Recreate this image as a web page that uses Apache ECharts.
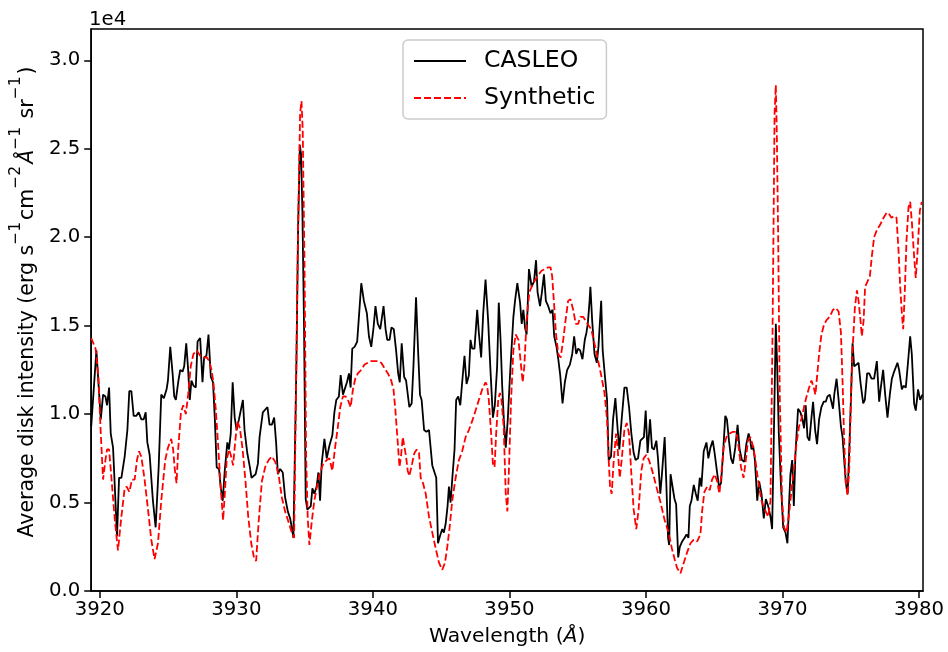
<!DOCTYPE html>
<html>
<head>
<meta charset="utf-8">
<script src="https://cdn.jsdelivr.net/npm/echarts@6/dist/echarts.min.js"></script>
<style>
html,body{margin:0;padding:0;background:#fff;}
#chart{width:948px;height:652px;}
</style>
</head>
<body>
<div id="chart"></div>
<script>
// Wavelengths (Å) and intensities in units of 1e4 erg s^-1 cm^-2 Å^-1 sr^-1
const casleoWave = [3919.37,3919.75,3920.07,3920.24,3920.41,3920.53,3920.68,3920.80,3920.97,3921.26,3921.41,3921.58,3921.82,3922.02,3922.16,3922.31,3922.48,3922.67,3922.85,3923.04,3923.21,3923.36,3923.48,3923.65,3923.89,3924.09,3924.31,3924.50,3924.69,3924.89,3924.99,3925.16,3925.33,3925.45,3925.57,3925.74,3925.89,3926.06,3926.18,3926.33,3926.47,3926.59,3926.71,3926.86,3927.03,3927.16,3927.35,3927.52,3927.64,3927.81,3927.96,3928.13,3928.29,3928.42,3928.56,3928.73,3928.85,3929.00,3929.15,3929.34,3929.46,3929.59,3929.73,3929.88,3930.02,3930.19,3930.31,3930.48,3930.60,3930.80,3930.99,3931.11,3931.24,3931.41,3931.58,3931.70,3931.94,3932.28,3932.43,3932.60,3932.77,3932.92,3933.04,3933.21,3933.40,3933.57,3933.77,3933.94,3934.06,3934.18,3934.26,3934.40,3934.52,3934.65,3934.74,3934.84,3934.96,3935.08,3935.20,3935.34,3935.45,3935.57,3935.71,3935.88,3936.01,3936.13,3936.25,3936.45,3936.62,3936.81,3937.03,3937.18,3937.32,3937.51,3937.64,3937.81,3937.93,3938.10,3938.25,3938.37,3938.49,3938.66,3938.85,3939.15,3939.34,3939.56,3939.71,3939.88,3940.05,3940.19,3940.36,3940.54,3940.63,3940.78,3940.93,3941.05,3941.22,3941.36,3941.53,3941.70,3941.85,3941.97,3942.11,3942.29,3942.43,3942.55,3942.67,3942.84,3942.97,3943.16,3943.31,3943.45,3943.57,3943.67,3943.75,3943.92,3944.11,3944.23,3944.35,3944.47,3944.64,3944.77,3944.91,3945.08,3945.20,3945.33,3945.47,3945.57,3945.69,3945.81,3945.98,3946.10,3946.25,3946.40,3946.54,3946.71,3946.86,3947.03,3947.15,3947.27,3947.44,3947.64,3947.76,3947.93,3948.08,3948.25,3948.44,3948.61,3948.79,3948.93,3949.10,3949.22,3949.35,3949.47,3949.59,3949.73,3949.88,3950.05,3950.29,3950.41,3950.58,3950.78,3950.90,3951.02,3951.14,3951.26,3951.43,3951.63,3951.80,3951.95,3952.06,3952.24,3952.38,3952.53,3952.67,3952.84,3953.01,3953.16,3953.28,3953.45,3953.58,3953.72,3953.89,3954.06,3954.23,3954.43,3954.60,3954.74,3954.89,3955.03,3955.18,3955.35,3955.52,3955.64,3955.74,3955.87,3955.93,3956.06,3956.23,3956.40,3956.52,3956.72,3956.83,3957.00,3957.15,3957.27,3957.44,3957.59,3957.76,3957.93,3958.05,3958.22,3958.42,3958.59,3958.76,3958.93,3959.10,3959.24,3959.42,3959.59,3959.73,3959.85,3959.98,3960.12,3960.30,3960.44,3960.59,3960.76,3960.88,3961.05,3961.17,3961.37,3961.49,3961.62,3961.70,3961.80,3961.92,3962.09,3962.21,3962.36,3962.48,3962.65,3962.82,3962.97,3963.11,3963.21,3963.33,3963.50,3963.65,3963.79,3963.94,3964.06,3964.23,3964.43,3964.57,3964.72,3964.89,3965.01,3965.21,3965.35,3965.50,3965.64,3965.81,3965.93,3966.08,3966.23,3966.37,3966.54,3966.71,3966.86,3967.03,3967.20,3967.35,3967.52,3967.64,3967.73,3967.85,3967.98,3968.15,3968.29,3968.46,3968.63,3968.78,3968.95,3969.12,3969.24,3969.37,3969.51,3969.61,3969.73,3969.88,3970.05,3970.22,3970.36,3970.49,3970.58,3970.71,3970.83,3970.95,3971.14,3971.31,3971.46,3971.58,3971.70,3971.83,3971.97,3972.12,3972.24,3972.39,3972.53,3972.68,3972.85,3973.02,3973.17,3973.29,3973.46,3973.58,3973.70,3973.79,3973.96,3974.11,3974.28,3974.40,3974.52,3974.64,3974.77,3974.89,3975.01,3975.13,3975.25,3975.42,3975.57,3975.71,3975.91,3976.03,3976.20,3976.35,3976.52,3976.71,3976.91,3977.08,3977.20,3977.37,3977.52,3977.69,3977.86,3978.01,3978.13,3978.25,3978.42,3978.54,3978.74,3978.86,3979.03,3979.20,3979.35,3979.47,3979.64,3979.76,3979.93,3980.08,3980.25];
const casleoFlux = [0.93,1.36,0.97,1.11,1.10,1.05,1.15,0.89,0.81,0.31,0.64,0.64,0.76,0.91,1.13,1.13,0.99,0.99,1.01,0.97,0.97,1.01,0.84,0.77,0.51,0.36,0.70,1.11,1.09,1.14,1.19,1.38,1.23,1.10,1.08,1.18,1.25,1.24,1.27,1.40,1.25,1.08,1.19,1.16,1.15,1.41,1.43,1.18,1.32,1.33,1.45,1.21,1.18,0.98,0.70,0.69,0.59,0.51,0.68,0.84,0.80,0.89,1.18,0.98,0.91,0.97,0.96,1.08,0.91,0.78,0.70,0.64,0.65,0.66,0.72,0.87,1.01,1.04,0.94,0.94,0.98,0.83,0.66,0.69,0.67,0.53,0.45,0.41,0.36,0.30,0.30,1.29,2.04,2.52,2.47,2.14,1.48,0.52,0.46,0.46,0.48,0.58,0.55,0.59,0.67,0.51,0.72,0.86,0.75,0.82,0.88,1.01,1.08,1.10,1.22,1.11,1.10,1.18,1.23,1.15,1.37,1.38,1.41,1.74,1.64,1.57,1.44,1.38,1.49,1.61,1.51,1.48,1.48,1.61,1.48,1.42,1.42,1.49,1.48,1.36,1.23,1.18,1.40,1.21,1.19,1.20,1.04,1.06,1.27,1.66,1.36,1.11,1.08,1.09,0.91,0.90,0.91,0.91,0.71,0.70,0.64,0.27,0.31,0.35,0.33,0.38,0.48,0.59,0.50,0.63,0.80,1.08,1.10,1.05,1.18,1.33,1.17,1.22,1.42,1.37,1.37,1.59,1.46,1.32,1.57,1.76,1.53,1.25,0.98,1.05,1.27,1.63,1.42,1.16,0.97,0.81,0.97,1.23,1.55,1.64,1.74,1.63,1.51,1.59,1.49,1.45,1.82,1.72,1.75,1.87,1.69,1.61,1.69,1.79,1.64,1.61,1.57,1.59,1.44,1.38,1.31,1.22,1.06,1.18,1.25,1.28,1.34,1.44,1.34,1.37,1.36,1.31,1.42,1.46,1.51,1.64,1.72,1.53,1.34,1.29,1.38,1.64,1.36,1.21,1.08,0.74,0.76,0.97,1.09,0.91,0.80,0.97,1.15,1.15,1.04,0.89,0.78,0.74,0.75,0.85,0.84,0.87,1.02,0.78,0.97,0.81,0.80,0.85,0.75,0.55,0.66,0.87,0.61,0.30,0.26,0.66,0.67,0.52,0.49,0.19,0.25,0.28,0.30,0.32,0.30,0.48,0.51,0.60,0.55,0.51,0.64,0.59,0.79,0.84,0.75,0.81,0.85,0.79,0.67,0.59,0.61,0.77,0.99,0.97,0.85,0.75,0.72,0.81,0.94,0.80,0.74,0.73,0.83,0.89,0.85,0.80,0.82,0.74,0.51,0.62,0.55,0.41,0.52,0.48,0.42,0.35,0.89,1.51,1.27,0.89,0.61,0.36,0.33,0.27,0.51,0.66,0.74,0.48,0.78,1.03,1.01,0.97,0.92,1.05,0.87,0.85,0.98,1.07,0.91,0.83,0.97,1.04,1.07,1.07,1.10,1.11,1.11,1.03,1.11,1.20,1.08,0.93,0.87,0.74,0.61,0.55,0.80,1.08,1.40,1.27,1.28,1.29,1.18,1.06,1.08,1.23,1.23,1.20,1.20,1.30,1.07,1.15,1.25,1.11,0.98,1.11,1.20,1.23,1.23,1.29,1.25,1.14,1.16,1.15,1.30,1.44,1.34,1.06,1.02,1.14,1.08,1.11];

const synthWave = [3919.37,3919.69,3919.90,3920.07,3920.24,3920.41,3920.53,3920.68,3920.85,3921.10,3921.33,3921.58,3921.82,3921.97,3922.16,3922.36,3922.55,3922.72,3922.87,3923.04,3923.28,3923.53,3923.77,3924.01,3924.26,3924.50,3924.79,3924.99,3925.23,3925.37,3925.50,3925.62,3925.74,3925.94,3926.11,3926.30,3926.47,3926.66,3926.86,3927.10,3927.35,3927.59,3927.84,3928.01,3928.18,3928.32,3928.49,3928.66,3928.85,3929.03,3929.17,3929.29,3929.46,3929.59,3929.76,3929.90,3930.07,3930.26,3930.46,3930.68,3930.87,3931.09,3931.29,3931.45,3931.63,3931.87,3932.11,3932.36,3932.60,3932.85,3933.09,3933.33,3933.57,3933.82,3934.06,3934.23,3934.38,3934.52,3934.67,3934.77,3934.86,3934.99,3935.11,3935.23,3935.35,3935.52,3935.71,3935.93,3936.13,3936.37,3936.62,3936.81,3937.03,3937.23,3937.44,3937.61,3937.81,3938.00,3938.17,3938.37,3938.54,3938.71,3938.90,3939.15,3939.39,3939.63,3939.88,3940.12,3940.36,3940.61,3940.85,3941.10,3941.34,3941.51,3941.65,3941.82,3941.95,3942.07,3942.19,3942.31,3942.43,3942.55,3942.67,3942.87,3943.04,3943.21,3943.38,3943.50,3943.67,3943.87,3944.11,3944.35,3944.60,3944.84,3945.08,3945.28,3945.45,3945.62,3945.81,3946.06,3946.30,3946.54,3946.79,3947.03,3947.27,3947.52,3947.76,3948.01,3948.25,3948.37,3948.49,3948.66,3948.79,3948.91,3949.03,3949.18,3949.30,3949.42,3949.58,3949.73,3949.85,3949.97,3950.12,3950.29,3950.46,3950.66,3950.83,3950.97,3951.09,3951.26,3951.46,3951.63,3951.82,3952.06,3952.35,3952.60,3952.84,3953.01,3953.13,3953.28,3953.40,3953.58,3953.75,3953.94,3954.11,3954.30,3954.47,3954.67,3954.86,3955.03,3955.20,3955.40,3955.64,3955.99,3956.23,3956.47,3956.72,3956.96,3957.15,3957.27,3957.37,3957.49,3957.64,3957.81,3957.93,3958.08,3958.22,3958.42,3958.59,3958.76,3958.93,3959.10,3959.29,3959.46,3959.66,3959.83,3960.03,3960.22,3960.46,3960.76,3961.07,3961.37,3961.66,3961.90,3962.10,3962.28,3962.53,3962.77,3963.02,3963.26,3963.50,3963.75,3963.99,3964.11,3964.28,3964.48,3964.67,3964.84,3965.04,3965.21,3965.38,3965.52,3965.69,3965.89,3966.13,3966.37,3966.62,3966.79,3966.96,3967.15,3967.33,3967.47,3967.64,3967.80,3967.98,3968.22,3968.46,3968.71,3968.95,3969.12,3969.27,3969.42,3969.51,3969.58,3969.68,3969.80,3969.97,3970.12,3970.29,3970.46,3970.66,3970.85,3971.02,3971.21,3971.41,3971.63,3971.80,3971.95,3972.12,3972.29,3972.41,3972.53,3972.68,3972.85,3973.02,3973.21,3973.46,3973.70,3973.91,3974.11,3974.28,3974.40,3974.52,3974.64,3974.77,3974.89,3975.01,3975.13,3975.30,3975.45,3975.57,3975.69,3975.81,3975.94,3976.05,3976.23,3976.40,3976.54,3976.71,3976.91,3977.15,3977.40,3977.64,3977.81,3977.98,3978.18,3978.35,3978.50,3978.62,3978.74,3978.84,3978.96,3979.08,3979.23,3979.35,3979.47,3979.64,3979.76,3979.89,3980.06,3980.20];
const synthFlux = [1.43,1.37,1.21,0.89,0.63,0.74,0.80,0.80,0.64,0.40,0.23,0.42,0.58,0.59,0.56,0.63,0.63,0.74,0.79,0.76,0.63,0.46,0.29,0.18,0.27,0.51,0.74,0.81,0.86,0.80,0.68,0.61,0.80,1.01,1.05,1.00,1.11,1.27,1.34,1.36,1.33,1.32,1.32,1.30,1.25,1.18,1.03,0.83,0.59,0.40,0.57,0.74,0.80,0.77,0.71,0.83,0.96,0.92,0.80,0.61,0.42,0.27,0.19,0.17,0.39,0.62,0.70,0.74,0.76,0.73,0.66,0.53,0.45,0.39,0.33,0.30,1.20,2.04,2.70,2.77,2.61,1.86,0.76,0.41,0.26,0.39,0.51,0.60,0.67,0.72,0.74,0.75,0.68,0.81,0.93,1.04,1.10,1.10,1.08,1.04,1.14,1.20,1.23,1.25,1.28,1.29,1.30,1.30,1.30,1.29,1.26,1.23,1.19,1.14,1.02,0.84,0.70,0.77,0.87,0.87,0.76,0.68,0.65,0.72,0.78,0.80,0.78,0.64,0.61,0.55,0.42,0.33,0.24,0.16,0.12,0.16,0.25,0.36,0.51,0.64,0.74,0.79,0.87,0.91,0.96,1.02,1.08,1.14,1.18,1.16,1.08,0.89,0.72,0.70,0.89,1.08,1.12,1.08,0.93,0.55,0.45,0.70,1.08,1.36,1.45,1.42,1.29,1.18,1.27,1.53,1.69,1.72,1.75,1.78,1.81,1.82,1.83,1.83,1.78,1.61,1.46,1.34,1.32,1.42,1.53,1.64,1.65,1.59,1.51,1.51,1.55,1.55,1.52,1.48,1.40,1.31,1.22,1.12,0.97,0.74,0.59,0.55,0.74,0.89,0.80,0.64,0.74,0.91,0.95,0.89,0.66,0.46,0.35,0.46,0.68,0.75,0.77,0.74,0.68,0.59,0.50,0.40,0.33,0.24,0.18,0.13,0.10,0.16,0.22,0.27,0.29,0.28,0.32,0.45,0.56,0.59,0.57,0.63,0.66,0.62,0.55,0.66,0.81,0.87,0.89,0.90,0.90,0.81,0.70,0.64,0.75,0.85,0.87,0.83,0.76,0.62,0.51,0.46,0.42,0.51,1.46,2.70,2.86,2.60,2.02,1.10,0.51,0.36,0.33,0.42,0.57,0.70,0.83,0.93,0.98,1.06,1.11,1.15,1.19,1.15,1.11,1.21,1.34,1.45,1.50,1.53,1.55,1.59,1.60,1.58,1.46,1.18,0.84,0.61,0.54,0.70,1.08,1.36,1.60,1.70,1.64,1.55,1.44,1.53,1.72,1.75,1.78,1.89,2.00,2.04,2.07,2.11,2.14,2.13,2.11,2.12,2.11,1.92,1.72,1.57,1.48,1.70,1.98,2.17,2.20,2.09,1.89,1.77,1.92,2.15,2.20];

const xTicks = [3920, 3930, 3940, 3950, 3960, 3970, 3980];
const yTicks = [0.0, 0.5, 1.0, 1.5, 2.0, 2.5, 3.0];
const seriesNames = ['CASLEO', 'Synthetic'];

const FONT = 'DejaVu Sans';
const zip = (xs, ys) => xs.map((x, i) => [x, ys[i]]);

const chart = echarts.init(document.getElementById('chart'), null, {renderer: 'canvas'});
chart.setOption({
  animation: false,
  backgroundColor: '#ffffff',
  grid: {left: 88, right: 25, top: 29, bottom: 61, show: true, borderColor: '#000', borderWidth: 1.5, backgroundColor: 'transparent'},
  legend: {
    orient: 'vertical', left: 403, top: 40,
    padding: [9, 11, 9, 10],
    itemWidth: 52, itemHeight: 14, itemGap: 13,
    itemStyle: {opacity: 0},
    backgroundColor: 'rgba(255,255,255,0.8)', borderColor: '#cccccc', borderWidth: 1.5, borderRadius: 5,
    textStyle: {fontFamily: FONT, fontSize: 23.6, color: '#000', padding: [0, 0, 0, 13]},
    data: seriesNames
  },
  xAxis: {
    type: 'value', min: 3919.37, max: 3980.29,
    name: '{n|Wavelength (}{i|Å}{n|)}', nameLocation: 'middle', nameGap: 36,
    nameTextStyle: {rich: {n: {fontFamily: FONT, fontSize: 20.3, color: '#000'}, i: {fontFamily: FONT, fontSize: 20.3, fontStyle: 'italic', color: '#000'}}},
    axisLine: {show: true, lineStyle: {color: '#000', width: 1.5}},
    axisTick: {show: true, length: 7, lineStyle: {color: '#000', width: 1.5}, customValues: xTicks},
    axisLabel: {fontFamily: FONT, fontSize: 19.7, color: '#000', margin: 9, customValues: xTicks, formatter: v => String(v)},
    splitLine: {show: false}
  },
  yAxis: {
    type: 'value', min: 0, max: 3.177,
    name: '{n|Average disk intensity (erg s}{s|−1}{n|cm}{s|−2}{i|Å}{s|−1}{n| sr}{s|−1}{n|)}',
    nameLocation: 'middle', nameGap: 48,
    nameTextStyle: {padding: [0, 0, 0, 16], rich: {
      n: {fontFamily: FONT, fontSize: 20.5, color: '#000', lineHeight: 30, verticalAlign: 'bottom'},
      i: {fontFamily: FONT, fontSize: 20.5, fontStyle: 'italic', color: '#000', lineHeight: 30, verticalAlign: 'bottom'},
      s: {fontFamily: FONT, fontSize: 15.5, color: '#000', lineHeight: 30, verticalAlign: 'top', padding: [0, 2, 0, 0]}
    }},
    axisLine: {show: true, lineStyle: {color: '#000', width: 1.5}},
    axisTick: {show: true, length: 7, lineStyle: {color: '#000', width: 1.5}, customValues: yTicks},
    axisLabel: {fontFamily: FONT, fontSize: 19.7, color: '#000', margin: 11, customValues: yTicks, formatter: v => v.toFixed(1)},
    splitLine: {show: false}
  },
  graphic: [{type: 'text', left: 89, top: 10, style: {text: '1e4', fontFamily: FONT, fontSize: 19.7, fill: '#000'}}],
  series: [
    {name: seriesNames[0], type: 'line', data: zip(casleoWave, casleoFlux), symbol: 'none', showSymbol: false,
     lineStyle: {color: '#000000', width: 1.8}, itemStyle: {color: '#000000'}, z: 2},
    {name: seriesNames[1], type: 'line', data: zip(synthWave, synthFlux), symbol: 'none', showSymbol: false,
     lineStyle: {color: '#ff0000', width: 1.8, type: [7, 3]}, itemStyle: {color: '#ff0000'}, z: 3}
  ]
});
</script>
</body>
</html>
